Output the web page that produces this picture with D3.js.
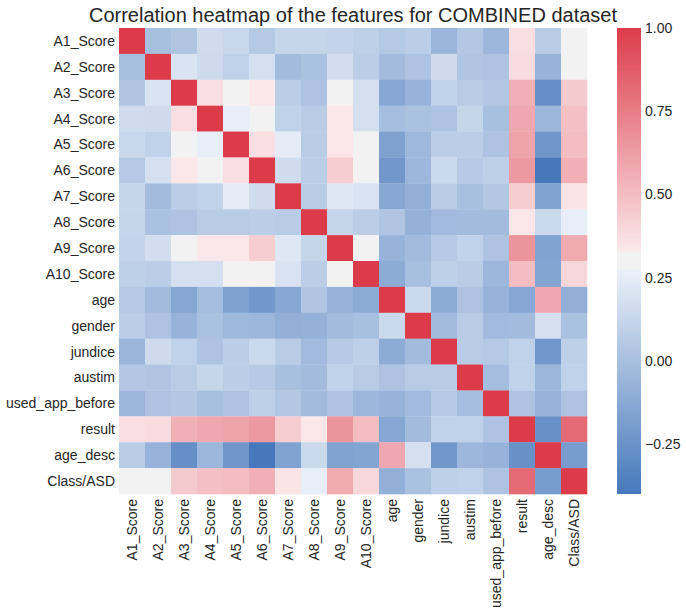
<!DOCTYPE html>
<html>
<head>
<meta charset="utf-8">
<script src="https://cdn.jsdelivr.net/npm/d3@7"></script>
<style>
  body { margin: 0; background: #fff; }
  text { font-family: "Liberation Sans", Arial, Helvetica, sans-serif; fill: #262626; }
</style>
</head>
<body>
<svg id="chart" width="686" height="614"></svg>
<script>
// feature names, same order on both axes
const features = ["A1_Score", "A2_Score", "A3_Score", "A4_Score", "A5_Score", "A6_Score",
  "A7_Score", "A8_Score", "A9_Score", "A10_Score", "age", "gender", "jundice", "austim",
  "used_app_before", "result", "age_desc", "Class/ASD"];

// correlation rows
const corrRows = [
  [1.00, 0.00, 0.03, 0.16, 0.13, 0.05, 0.12, 0.12, 0.11, 0.09, 0.05, 0.08, -0.06, 0.04, -0.05, 0.37, 0.07, 0.30],
  [0.00, 1.00, 0.20, 0.15, 0.10, 0.18, -0.02, 0.01, 0.17, 0.08, -0.02, 0.02, 0.15, 0.03, 0.02, 0.38, -0.07, 0.30],
  [0.03, 0.20, 1.00, 0.37, 0.30, 0.34, 0.08, 0.02, 0.30, 0.18, -0.14, -0.07, 0.10, 0.07, 0.04, 0.55, -0.27, 0.45],
  [0.16, 0.15, 0.37, 1.00, 0.26, 0.30, 0.10, 0.07, 0.34, 0.18, -0.01, 0.01, 0.02, 0.12, 0.00, 0.58, -0.05, 0.49],
  [0.13, 0.10, 0.30, 0.26, 1.00, 0.37, 0.25, 0.07, 0.34, 0.30, -0.17, -0.04, 0.08, 0.08, 0.02, 0.60, -0.23, 0.50],
  [0.05, 0.18, 0.34, 0.30, 0.37, 1.00, 0.16, 0.08, 0.44, 0.30, -0.22, -0.05, 0.14, 0.06, 0.09, 0.64, -0.40, 0.55],
  [0.12, -0.02, 0.08, 0.10, 0.25, 0.16, 1.00, 0.07, 0.22, 0.20, -0.13, -0.09, 0.07, 0.00, 0.04, 0.44, -0.16, 0.35],
  [0.12, 0.01, 0.02, 0.07, 0.07, 0.08, 0.07, 1.00, 0.12, 0.08, 0.03, -0.08, -0.03, -0.02, -0.02, 0.34, 0.14, 0.26],
  [0.11, 0.17, 0.30, 0.34, 0.34, 0.44, 0.22, 0.12, 1.00, 0.28, -0.07, -0.02, 0.06, 0.10, 0.02, 0.66, -0.16, 0.57],
  [0.09, 0.08, 0.18, 0.18, 0.30, 0.30, 0.20, 0.08, 0.28, 1.00, -0.11, 0.00, 0.09, 0.07, -0.05, 0.50, -0.15, 0.40],
  [0.05, -0.02, -0.14, -0.01, -0.17, -0.22, -0.13, 0.03, -0.07, -0.11, 1.00, 0.14, -0.11, 0.02, -0.07, -0.14, 0.58, -0.09],
  [0.08, 0.02, -0.07, 0.01, -0.04, -0.05, -0.09, -0.08, -0.02, 0.00, 0.14, 1.00, -0.02, 0.07, -0.03, -0.02, 0.18, 0.01],
  [-0.06, 0.15, 0.10, 0.02, 0.08, 0.14, 0.07, -0.03, 0.06, 0.09, -0.11, -0.02, 1.00, 0.07, 0.05, 0.10, -0.22, 0.09],
  [0.04, 0.03, 0.07, 0.12, 0.08, 0.06, 0.00, -0.02, 0.10, 0.07, 0.02, 0.07, 0.07, 1.00, -0.01, 0.10, -0.05, 0.10],
  [-0.05, 0.02, 0.04, 0.00, 0.02, 0.09, 0.04, -0.02, 0.02, -0.05, -0.07, -0.03, 0.05, -0.01, 1.00, 0.02, -0.07, 0.02],
  [0.37, 0.38, 0.55, 0.58, 0.60, 0.64, 0.44, 0.34, 0.66, 0.50, -0.14, -0.02, 0.10, 0.10, 0.02, 1.00, -0.26, 0.82],
  [0.07, -0.07, -0.27, -0.05, -0.23, -0.40, -0.16, 0.14, -0.16, -0.15, 0.58, 0.18, -0.22, -0.05, -0.07, -0.26, 1.00, -0.20],
  [0.30, 0.30, 0.45, 0.49, 0.50, 0.55, 0.35, 0.26, 0.57, 0.40, -0.09, 0.01, 0.09, 0.10, 0.02, 0.82, -0.20, 1.00]
];

// colorbar tick values
const cbarTicks = [1.00, 0.75, 0.50, 0.25, 0.00, -0.25];

const titleText = "Correlation heatmap of the features for COMBINED dataset";

const svg = d3.select("#chart");

// flatten to cells
let cells = [];
corrRows.forEach(function(row, i) {
  row.forEach(function(v, j) {
    cells.push({ row: features[i], col: features[j], value: v });
  });
});

const vmin = d3.min(cells, d => d.value);
const vmax = 1.0;
const span = vmax - vmin;

// diverging map: blue -> pale blue | grey band | pale pink -> red
const color = d3.scaleLinear()
  .domain([vmin, vmin + span * 122 / 255, vmin + span * 123 / 255,
           vmin + span * 132 / 255, vmin + span * 133 / 255, vmax])
  .range(["#4678bb", "#eaf0f8", "#f2f2f2", "#f2f2f2", "#fbe9eb", "#dc3c4a"])
  .interpolate(d3.interpolateRgb)
  .clamp(true);

const plotLeft = 119, plotRight = 587, plotTop = 28, plotBottom = 494;

const x = d3.scaleBand().domain(features).range([plotLeft, plotRight]);
const y = d3.scaleBand().domain(features).range([plotTop, plotBottom]);

// cells
svg.append("g")
  .selectAll("rect")
  .data(cells)
  .enter()
  .append("rect")
  .attr("x", d => x(d.col))
  .attr("y", d => y(d.row))
  .attr("width", x.bandwidth() + 0.3)
  .attr("height", y.bandwidth() + 0.3)
  .attr("fill", d => color(d.value));

// y labels
svg.append("g")
  .selectAll("text")
  .data(features)
  .enter()
  .append("text")
  .attr("x", plotLeft - 4)
  .attr("y", d => y(d) + y.bandwidth() / 2)
  .attr("dy", "0.35em")
  .attr("text-anchor", "end")
  .attr("font-size", "14px")
  .text(d => d);

// x labels, rotated
svg.append("g")
  .selectAll("text")
  .data(features)
  .enter()
  .append("text")
  .attr("transform", d => "translate(" + (x(d) + x.bandwidth() / 2) + "," + (plotBottom + 5) + ") rotate(-90)")
  .attr("dy", "0.35em")
  .attr("text-anchor", "end")
  .attr("font-size", "14px")
  .text(d => d);

// title
svg.append("text")
  .attr("x", (plotLeft + plotRight) / 2)
  .attr("y", 22)
  .attr("text-anchor", "middle")
  .attr("font-size", "20px")
  .text(titleText);

// colorbar
const cbX = 617, cbW = 24;
const cbScale = d3.scaleLinear().domain([vmin, vmax]).range([plotBottom, plotTop]);

const grad = svg.append("defs")
  .append("linearGradient")
  .attr("id", "cbar")
  .attr("x1", 0).attr("y1", 1)
  .attr("x2", 0).attr("y2", 0);

grad.selectAll("stop")
  .data(d3.range(0, 257))
  .enter()
  .append("stop")
  .attr("offset", d => d / 256)
  .attr("stop-color", d => color(vmin + span * d / 256));

svg.append("rect")
  .attr("x", cbX)
  .attr("y", plotTop)
  .attr("width", cbW)
  .attr("height", plotBottom - plotTop)
  .attr("fill", "url(#cbar)");

svg.append("g")
  .selectAll("text")
  .data(cbarTicks)
  .enter()
  .append("text")
  .attr("x", cbX + cbW + 4)
  .attr("y", d => cbScale(d))
  .attr("dy", "0.35em")
  .attr("font-size", "14px")
  .text(d => d3.format(".2f")(d).replace("-", "\u2212"));
</script>
</body>
</html>
